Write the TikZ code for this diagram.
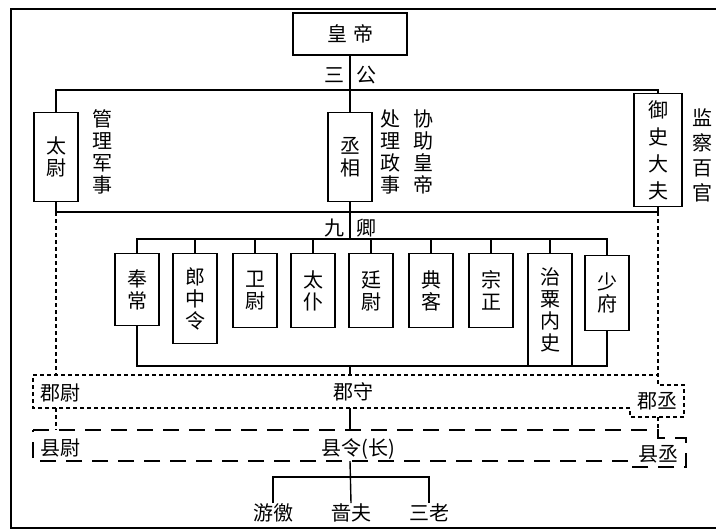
\documentclass[tikz,border=0pt]{standalone}
\usepackage{fontspec}
\newfontfamily\cjk{Noto Sans CJK SC}
\usetikzlibrary{positioning}

\begin{document}
\begin{tikzpicture}[x=0.5pt, y=-0.5pt, line width=0.7pt,
      font=\cjk\fontsize{10}{11}\selectfont,
      post/.style={draw, align=center, inner sep=0pt, minimum width=22pt},
      note/.style={align=center, inner sep=0pt},
      junline/.style={dash pattern=on 2pt off 1.5pt},
      xianline/.style={dash pattern=on 8pt off 5pt}]
  \useasboundingbox (0,0) rectangle (716,531);
  % outer frame
  \draw (716,9) -- (11,9) -- (11,528) -- (716,528);
  % emperor and the three lords
  \node[post, minimum width=57pt, minimum height=21pt] (huangdi) at (350,34) {皇\hspace{3pt}帝};
  \node[note] (sangong) at (350,75) {三\hspace{6pt}公};
  \node[post, minimum height=44.5pt] (taiwei) at (56,157) {太\\尉};
  \node[post, minimum height=44.5pt] (chengxiang) at (350,157) {丞\\相};
  \node[post, minimum width=24pt, minimum height=56.5pt,
        font=\cjk\fontsize{10}{13.5}\selectfont] (yushi) at (658,150) {御\\史\\大\\夫};
  \node[note, right=6.5pt of taiwei, yshift=2.5pt] (guanli) {管\\理\\军\\事};
  \node[note, right=3.5pt of chengxiang, yshift=2.5pt] (chuli) {处\\理\\政\\事};
  \node[note, right=6pt of chuli] (xiezhu) {协\\助\\皇\\帝};
  \node[note, right=4.5pt of yushi, yshift=-2.5pt,
        font=\cjk\fontsize{10}{12.5}\selectfont] (jiancha) {监\\察\\百\\官};
  \coordinate (bus1) at (350,90);
  \coordinate (bus2) at (350,212);
  \draw (huangdi.south) -- (chengxiang.north);
  \draw (taiwei.north) |- (bus1) -| (yushi.north);
  \draw (taiwei.south) |- (bus2) -| (yushi.south);
  % the nine ministers
  \node[note] (jiuqing) at (350,228) {九\hspace{6pt}卿};
  \coordinate (bus3) at (350,239);
  \draw (chengxiang.south) -- (bus3);
  \node[post, minimum height=36pt, anchor=north] (fengchang) at (137,253) {奉\\常};
  \node[post, minimum height=45pt, anchor=north] (langzhong) at (195,253) {郎\\中\\令};
  \node[post, minimum height=37pt, anchor=north] (weiwei) at (255,253) {卫\\尉};
  \node[post, minimum height=37pt, anchor=north] (taipu) at (313,253) {太\\仆};
  \node[post, minimum height=37pt, anchor=north] (tingwei) at (371,253) {廷\\尉};
  \node[post, minimum height=37pt, anchor=north] (dianke) at (431,253) {典\\客};
  \node[post, minimum height=37pt, anchor=north] (zongzheng) at (491,253) {宗\\正};
  \node[post, minimum height=56pt, anchor=north] (zhisu) at (550,253) {治\\粟\\内\\史};
  \node[post, minimum height=37.5pt, anchor=north] (shaofu) at (607,255) {少\\府};
  \draw (fengchang.north) |- (bus3) -| (shaofu.north);
  \foreach \n in {langzhong, weiwei, taipu, tingwei, dianke, zongzheng, zhisu}
    \draw (\n.north) -- (\n.north |- bus3);
  \coordinate (bus4) at (350,366);
  \draw (fengchang.south) |- (bus4) -| (shaofu.south);
  % commandery
  \draw[junline] (33,375) -- (658,375) -- (658,385) -- (684,385) -- (684,417)
    -- (630,417) -- (630,408) -- (33,408) -- cycle;
  \coordinate (juntop) at (350,375);
  \coordinate (junbot) at (350,408);
  \coordinate (juncorner) at (658,417);
  \node[note] (junwei) at (60,393) {郡尉};
  \node[note] (junshou) at (353,392) {郡守};
  \node[note] (juncheng) at (657,401) {郡丞};
  \draw (bus4) -- (juntop);
  \draw[junline] (taiwei.south |- bus2) -- (taiwei.south |- juntop);
  \draw[junline] (yushi.south |- bus2) -- (yushi.south |- juntop);
  % county
  \draw[xianline] (33,430) -- (658,430) -- (658,438) -- (686,438) -- (686,467)
    -- (632,467) -- (632,461) -- (33,461) -- cycle;
  \coordinate (xiantop) at (350,430);
  \coordinate (xianbot) at (350,461);
  \node[note] (xianwei) at (60,448) {县尉};
  \node[note] (xianling) at (358,449) {县令(长)};
  \node[note] (xiancheng) at (658,454) {县丞};
  \draw (junbot) -- (xiantop);
  \draw[junline] (taiwei.south |- junbot) -- (taiwei.south |- xiantop);
  \draw[junline] (yushi.south |- juncorner) -- (yushi.south |- xiantop);
  % townships
  \node[note] (youjiao) at (273,513) {游徼};
  \node[note] (sefu) at (351,513) {啬夫};
  \node[note] (sanlao) at (429,513) {三老};
  \coordinate (bus5) at (350,477);
  \draw (xianbot) -- (sefu.north);
  \draw (youjiao.north) |- (bus5) -| (sanlao.north);
\end{tikzpicture}
\end{document}
